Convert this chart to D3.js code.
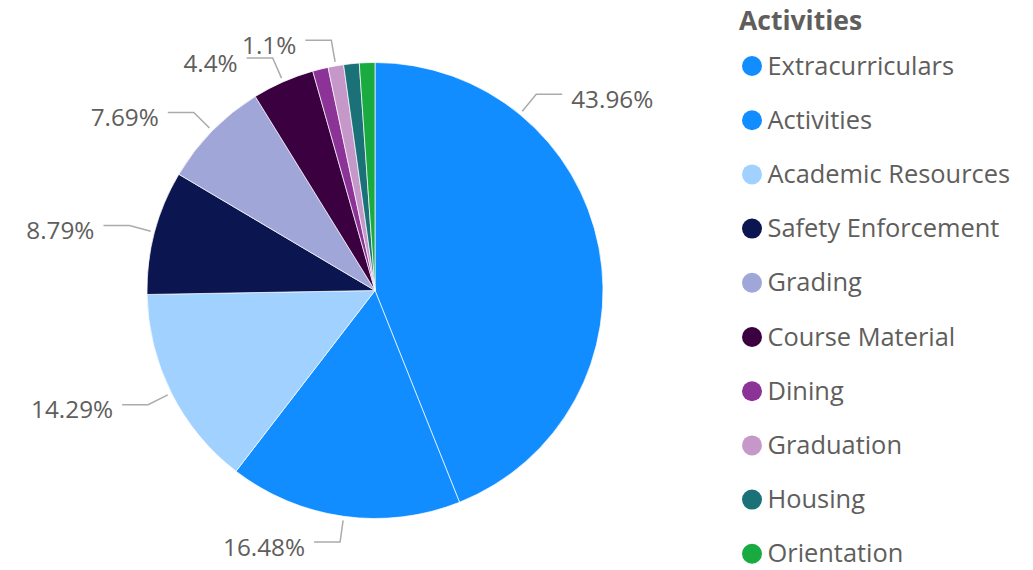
<!DOCTYPE html>
<html><head><meta charset="utf-8">
<script src="https://cdn.jsdelivr.net/npm/d3@7"></script>
<style>
html,body{margin:0;padding:0;background:#fff;}
svg{display:block;font-family:"Open Sans","Segoe UI",sans-serif;}
</style></head>
<body>
<svg id="chart" width="1033" height="570"></svg>
<script>
const categories = ["Extracurriculars","Activities","Academic Resources","Safety Enforcement","Grading","Course Material","Dining","Graduation","Housing","Orientation"];
const values = [43.96,16.48,14.29,8.79,7.69,4.40,1.10,1.10,1.10,1.10];
const colors = ["#118DFF","#118DFF","#A0D1FF","#0B1550","#A0A6D8","#3A0040","#8B3397","#C698C9","#1A7177","#1AAB40"];
const labelled = ["Extracurriculars","Activities","Academic Resources","Safety Enforcement","Grading","Course Material","Graduation"];
const legendTitle = "Activities";

// layout
const W = 1033, H = 570;
const cx = 375, cy = 290.5, R = 228;
const labelAngleOverride = {"Extracurriculars": 39.4 * Math.PI / 180};
const textColor = "#605E5C";

const svg = d3.select("#chart");
const g = svg.append("g").attr("transform", `translate(${cx},${cy})`);

const pie = d3.pie().sort(null).value(d => d.v);
const data = categories.map((c,i)=>({c, v: values[i], col: colors[i]}));
const arcs = pie(data);
const arc = d3.arc().innerRadius(0).outerRadius(R);

g.selectAll("path.slice").data(arcs).join("path")
  .attr("class","slice")
  .attr("d", arc)
  .attr("fill", d => d.data.col)
  .attr("stroke", "#fff")
  .attr("stroke-width", 0.7);

const fmt = v => (+v.toFixed(2)).toString() + "%";

arcs.filter(d => labelled.includes(d.data.c)).forEach(d => {
  const a = labelAngleOverride[d.data.c] !== undefined ? labelAngleOverride[d.data.c] : (d.startAngle + d.endAngle) / 2;
  const p = r => [r * Math.sin(a), -r * Math.cos(a)];
  const p1 = p(R + 4), p2 = p(R + 26);
  const right = Math.sin(a) >= 0;
  const p3 = [p2[0] + (right ? 26 : -26), p2[1]];
  g.append("polyline")
    .attr("points", [p1, p2, p3].map(q => q.join(",")).join(" "))
    .attr("fill", "none").attr("stroke", "#ABABAB").attr("stroke-width", 1.5);
  g.append("text")
    .attr("x", p3[0] + (right ? 9 : -9))
    .attr("y", p3[1] + 13.5)
    .attr("text-anchor", right ? "start" : "end")
    .attr("font-size", 24.3)
    .attr("fill", textColor)
    .text(fmt(d.data.v));
});

// legend
const lg = svg.append("g");
lg.append("text").attr("x", 739).attr("y", 30).attr("font-size", 26.5).attr("font-weight", 700)
  .attr("fill", textColor).text(legendTitle);
const item = lg.selectAll("g.item").data(data).join("g").attr("class","item")
  .attr("transform", (d,i) => `translate(752,${66 + i * 54.2})`);
item.append("circle").attr("r", 10).attr("fill", d => d.col);
item.append("text").attr("x", 15.5).attr("y", 8.5).attr("font-size", 25.4).attr("fill", textColor).text(d => d.c);
</script>
</body></html>
